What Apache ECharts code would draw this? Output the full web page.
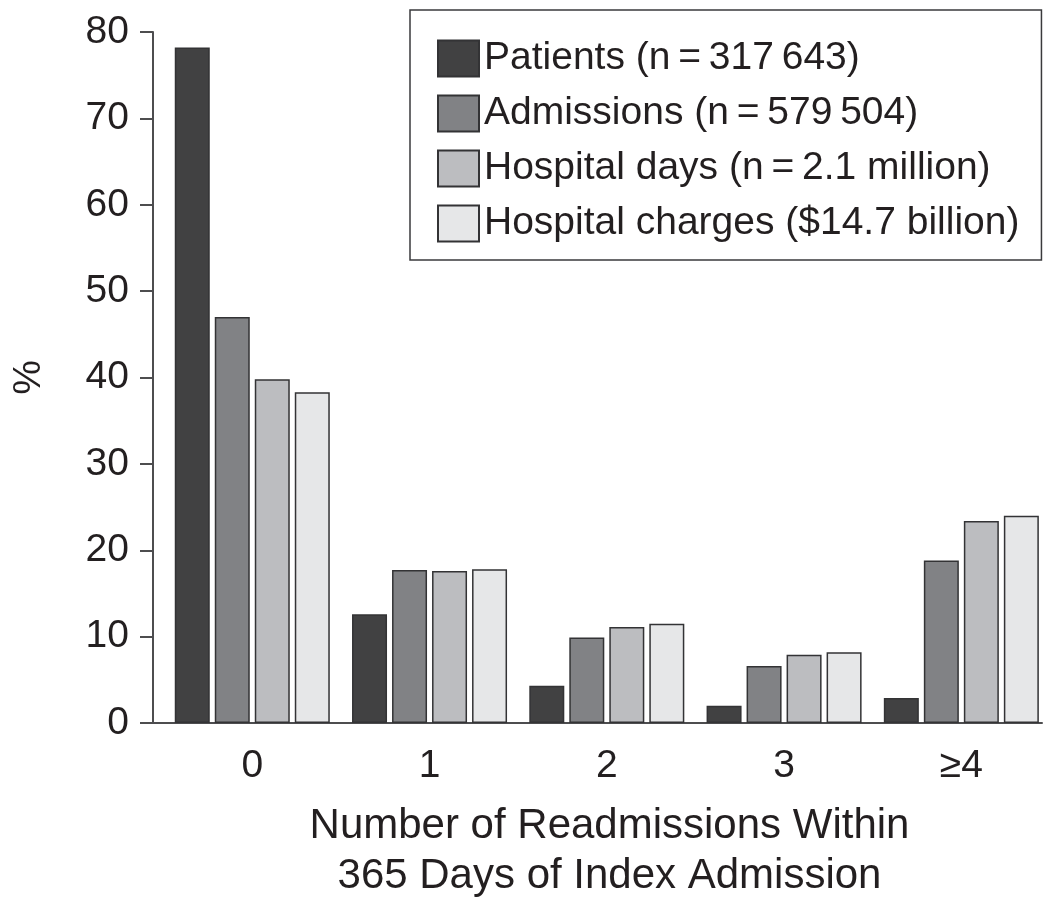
<!DOCTYPE html>
<html>
<head>
<meta charset="utf-8">
<script src="https://cdn.jsdelivr.net/npm/echarts@6/dist/echarts.min.js"></script>
<style>
html,body{margin:0;padding:0;background:#fff;}
#chart{width:1050px;height:906px;}
</style>
</head>
<body>
<div id="chart"></div>
<script>
const categories = ['0', '1', '2', '3', '\u22654'];
const seriesNames = [
  'Patients (n\u2009=\u2009317\u2009643)',
  'Admissions (n\u2009=\u2009579\u2009504)',
  'Hospital days (n\u2009=\u20092.1 million)',
  'Hospital charges ($14.7 billion)'
];
const patients = [78.2, 12.6, 4.3, 2.0, 2.9];
const admissions = [47.0, 17.7, 9.9, 6.6, 18.8];
const hospitalDays = [39.8, 17.6, 11.1, 7.9, 23.4];
const hospitalCharges = [38.3, 17.8, 11.5, 8.2, 24.0];
const yTicks = [0, 10, 20, 30, 40, 50, 60, 70, 80];

const colors = ['#414142', '#818285', '#bcbdc0', '#e6e7e8'];
const values = [patients, admissions, hospitalDays, hospitalCharges];
const catIndex = categories.map((c, i) => i);
const FONT = 'Liberation Sans';
const textColor = '#231f20';
const lineColor = '#4d4d4f';

const chart = echarts.init(document.getElementById('chart'), null, {renderer: 'canvas'});
chart.setOption({
  animation: false,
  backgroundColor: '#ffffff',
  textStyle: {fontFamily: FONT, color: textColor},
  grid: {left: 153, right: 8, top: 32, bottom: 183, containLabel: false},
  legend: {
    orient: 'vertical',
    left: 410,
    top: 10,
    padding: [29, 22, 17, 27],
    itemWidth: 41,
    itemHeight: 36,
    itemGap: 16,
    icon: 'rect',
    borderColor: '#3a3a3c',
    borderWidth: 1.5,
    backgroundColor: '#ffffff',
    textStyle: {fontFamily: FONT, fontSize: 39, color: textColor, lineHeight: 38},
    data: seriesNames
  },
  xAxis: {
    type: 'value',
    min: -0.56,
    max: 4.455,
    axisLine: {show: true, onZero: false, lineStyle: {color: lineColor, width: 2}},
    axisTick: {show: false},
    splitLine: {show: false},
    axisLabel: {
      fontFamily: FONT, fontSize: 39, color: textColor, margin: 24, lineHeight: 38,
      customValues: catIndex,
      formatter: function (v) { return categories[Math.round(v)]; }
    },
    name: 'Number of Readmissions Within\n365 Days of Index Admission',
    nameLocation: 'middle',
    nameGap: 78,
    nameTextStyle: {fontFamily: FONT, fontSize: 42, color: textColor, lineHeight: 50, padding: [0, 0, 0, 24]}
  },
  yAxis: {
    type: 'value',
    min: yTicks[0],
    max: yTicks[yTicks.length - 1],
    interval: 10,
    axisLine: {show: true, onZero: false, lineStyle: {color: lineColor, width: 2}},
    axisTick: {show: true, length: 13, inside: false, lineStyle: {color: lineColor, width: 2}},
    splitLine: {show: false},
    axisLabel: {fontFamily: FONT, fontSize: 39, color: textColor, margin: 24},
    name: '%',
    nameLocation: 'middle',
    nameGap: 104,
    nameRotate: 90,
    nameTextStyle: {fontFamily: FONT, fontSize: 39, color: textColor}
  },
  series: seriesNames.map((name, i) => ({
    name: name,
    type: 'bar',
    data: catIndex.map(k => [k, values[i][k]]),
    barWidth: 35,
    barGap: '14.3%',
    itemStyle: {color: colors[i], borderColor: '#333335', borderWidth: 1.5}
  }))
});
</script>
</body>
</html>
